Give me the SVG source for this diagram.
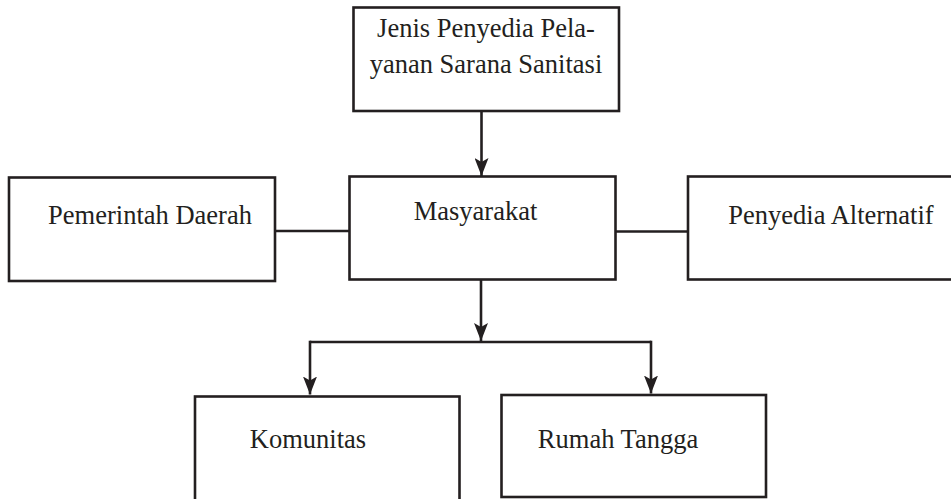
<svg xmlns="http://www.w3.org/2000/svg" width="951" height="499" viewBox="0 0 951 499">
<defs>
<style>
.box{fill:#fff;stroke:#231f20;stroke-width:2.6}
.lbl{font-family:"Liberation Serif","Times New Roman",serif;font-size:26.5px;fill:#231f20;text-anchor:middle}
.con{fill:none;stroke:#231f20;stroke-width:2.6}
</style>
<marker id="arr" markerUnits="userSpaceOnUse" viewBox="0 0 18 14" refX="18" refY="7" markerWidth="18" markerHeight="14" orient="auto">
<path d="M0,0 L18,7 L0,14 L4,7 z" fill="#231f20"/>
</marker>
</defs>
<rect width="951" height="499" fill="#fff"/>
<g id="connectors">
<line class="con" x1="481.5" y1="111" x2="481.5" y2="176" marker-end="url(#arr)"/>
<line class="con" x1="275" y1="231" x2="349.5" y2="231"/>
<line class="con" x1="615.5" y1="231.5" x2="688" y2="231.5"/>
<line class="con" x1="481" y1="279.5" x2="481" y2="341" marker-end="url(#arr)"/>
<polyline class="con" points="310,342 651,342"/>
<line class="con" x1="310" y1="340.7" x2="310" y2="394.5" marker-end="url(#arr)"/>
<line class="con" x1="651" y1="340.7" x2="651" y2="393.5" marker-end="url(#arr)"/>
</g>
<g id="node-jenis">
<rect class="box" x="353.5" y="7.5" width="265.5" height="103.5"/>
<text class="lbl" x="486" y="36.5">Jenis Penyedia Pela-</text>
<text class="lbl" x="486" y="73">yanan Sarana Sanitasi</text>
</g>
<g id="node-pemerintah">
<rect class="box" x="9" y="177.5" width="266" height="103.5"/>
<text class="lbl" x="150" y="224">Pemerintah Daerah</text>
</g>
<g id="node-masyarakat">
<rect class="box" x="349.5" y="176.5" width="266" height="103"/>
<text class="lbl" x="475.5" y="219.5">Masyarakat</text>
</g>
<g id="node-alternatif">
<rect class="box" x="688" y="176.5" width="270" height="103"/>
<text class="lbl" x="831" y="224">Penyedia Alternatif</text>
</g>
<g id="node-komunitas">
<rect class="box" x="195" y="396.5" width="264.5" height="105"/>
<text class="lbl" x="308" y="447.5">Komunitas</text>
</g>
<g id="node-rumah">
<rect class="box" x="501.5" y="395" width="264.5" height="102"/>
<text class="lbl" x="618" y="448">Rumah Tangga</text>
</g>
</svg>
